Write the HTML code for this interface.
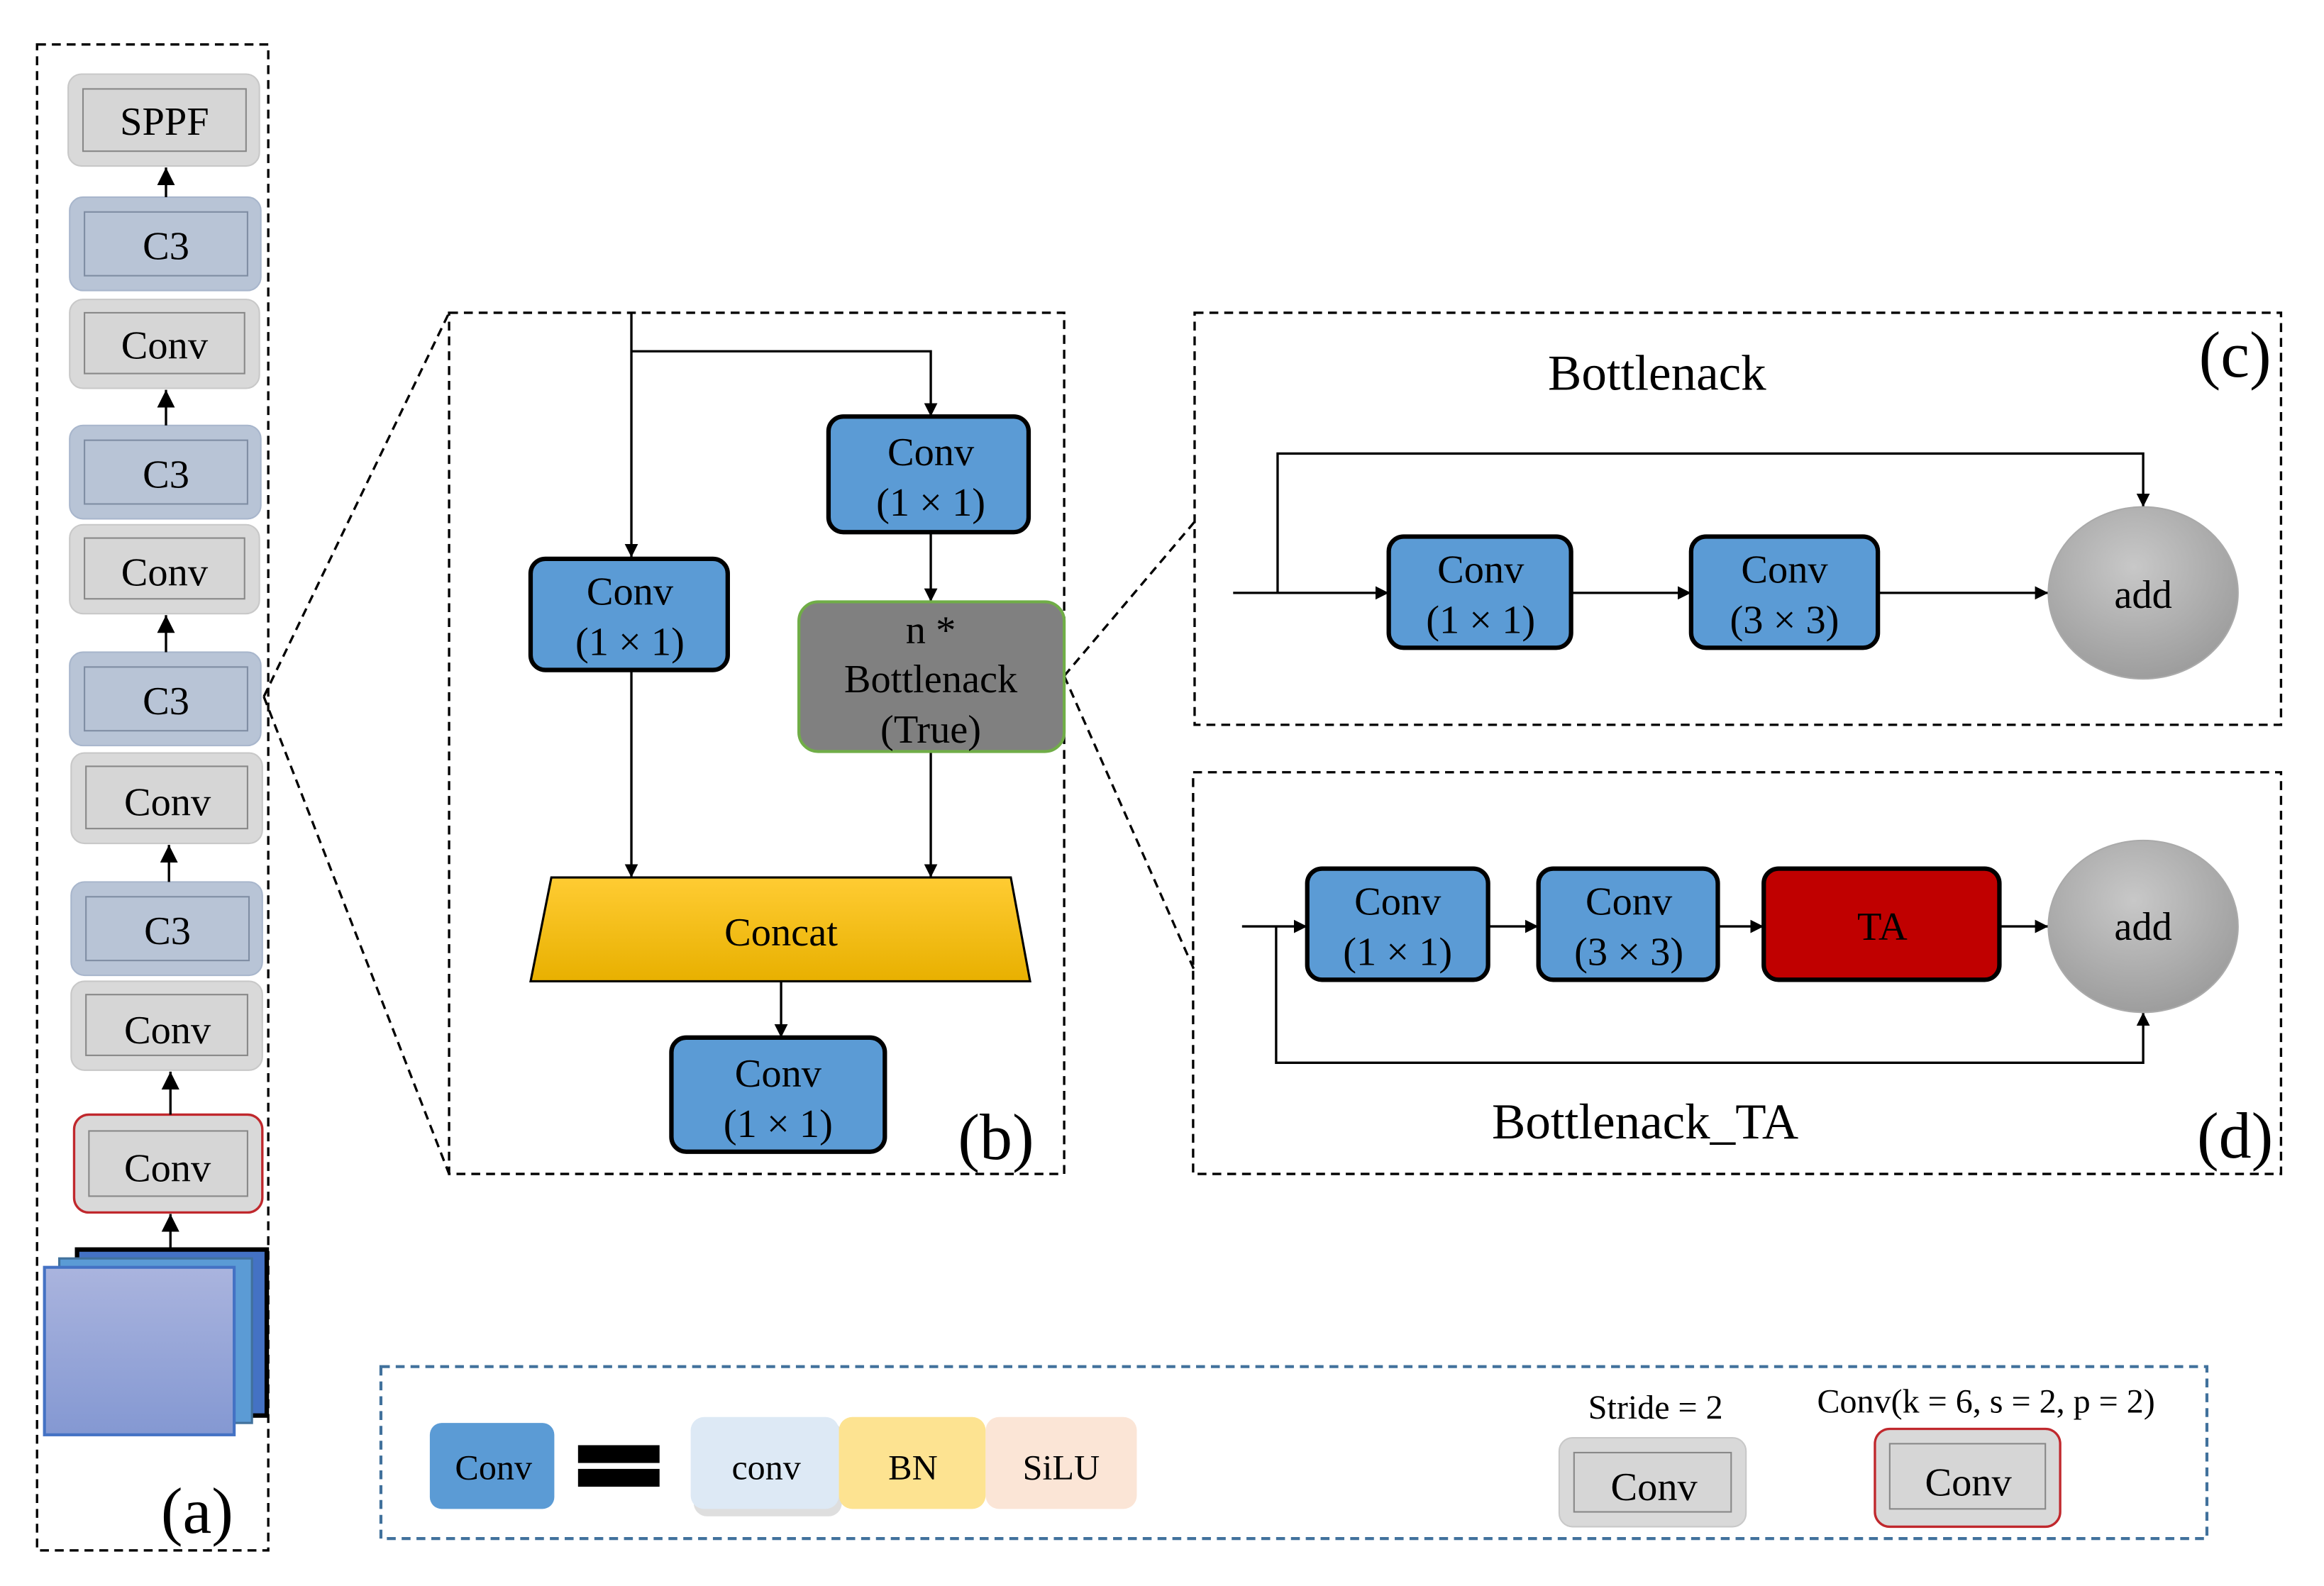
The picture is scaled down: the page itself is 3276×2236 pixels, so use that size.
<!DOCTYPE html>
<html><head><meta charset="utf-8"><style>html,body{margin:0;padding:0;background:#fff}svg{display:block}</style></head><body>
<svg width="3276" height="2236" viewBox="0 0 1568 1070" preserveAspectRatio="none" xmlns="http://www.w3.org/2000/svg" font-family="'Liberation Serif',serif">
<defs>
<marker id="ar" viewBox="0 0 10 10" refX="10" refY="5" markerWidth="9" markerHeight="9" markerUnits="userSpaceOnUse" orient="auto"><path d="M0,0L10,5L0,10z" fill="#000"/></marker>
<marker id="ar2" viewBox="0 0 10 10" refX="10" refY="5" markerWidth="12" markerHeight="12" markerUnits="userSpaceOnUse" orient="auto"><path d="M0,0L10,5L0,10z" fill="#000"/></marker>
<linearGradient id="lav" x1="0" y1="0" x2="0" y2="1"><stop offset="0" stop-color="#aab4de"/><stop offset="1" stop-color="#8498d2"/></linearGradient>
<linearGradient id="gold" x1="0" y1="0" x2="0" y2="1"><stop offset="0" stop-color="#ffcc33"/><stop offset="1" stop-color="#e8b000"/></linearGradient>
<radialGradient id="gry" cx="0.45" cy="0.35" r="0.7"><stop offset="0" stop-color="#c8c8c8"/><stop offset="1" stop-color="#9a9a9a"/></radialGradient>
</defs>
<g fill="none" stroke="#000" stroke-width="1.6" stroke-dasharray="6,4">
<rect x="25" y="30" width="156" height="1016"/>
<rect x="303" y="211" width="415" height="581"/>
<rect x="806" y="211" width="733" height="278"/>
<rect x="805" y="521" width="734" height="271"/>
<path d="M178,470L303,211M178,470L303,792M718,456L806,352M718,456L806,655"/>
</g>
<rect x="257" y="922" width="1232" height="116" fill="none" stroke="#41719c" stroke-width="2" stroke-dasharray="6,4"/>
<g font-size="27" text-anchor="middle">
<rect x="46" y="50" width="129" height="62" rx="9" fill="#d9d9d9" stroke="#c8c8c8"/><rect x="56" y="60" width="110" height="42" fill="#d6d6d6" stroke="#888"/><text x="111" y="91">SPPF</text>
<rect x="47" y="133" width="129" height="63" rx="9" fill="#b8c4d6" stroke="#a8b6cc"/><rect x="57" y="143" width="110" height="43" fill="#b8c4d6" stroke="#7f8da3"/><text x="112" y="175">C3</text>
<rect x="47" y="202" width="128" height="60" rx="9" fill="#d9d9d9" stroke="#c8c8c8"/><rect x="57" y="211" width="108" height="41" fill="#d6d6d6" stroke="#888"/><text x="111" y="242">Conv</text>
<rect x="47" y="287" width="129" height="63" rx="9" fill="#b8c4d6" stroke="#a8b6cc"/><rect x="57" y="297" width="110" height="43" fill="#b8c4d6" stroke="#7f8da3"/><text x="112" y="329">C3</text>
<rect x="47" y="354" width="128" height="60" rx="9" fill="#d9d9d9" stroke="#c8c8c8"/><rect x="57" y="363" width="108" height="41" fill="#d6d6d6" stroke="#888"/><text x="111" y="395">Conv</text>
<rect x="47" y="440" width="129" height="63" rx="9" fill="#b8c4d6" stroke="#a8b6cc"/><rect x="57" y="450" width="110" height="43" fill="#b8c4d6" stroke="#7f8da3"/><text x="112" y="482">C3</text>
<rect x="48" y="508" width="129" height="61" rx="9" fill="#d9d9d9" stroke="#c8c8c8"/><rect x="58" y="517" width="109" height="42" fill="#d6d6d6" stroke="#888"/><text x="113" y="550">Conv</text>
<rect x="48" y="595" width="129" height="63" rx="9" fill="#b8c4d6" stroke="#a8b6cc"/><rect x="58" y="605" width="110" height="43" fill="#b8c4d6" stroke="#7f8da3"/><text x="113" y="637">C3</text>
<rect x="48" y="662" width="129" height="60" rx="9" fill="#d9d9d9" stroke="#c8c8c8"/><rect x="58" y="671" width="109" height="41" fill="#d6d6d6" stroke="#888"/><text x="113" y="704">Conv</text>
<rect x="50" y="752" width="127" height="66" rx="10" fill="#d9d9d9" stroke="#c0282d" stroke-width="1.6"/><rect x="60" y="763" width="107" height="44" fill="#d6d6d6" stroke="#888"/><text x="113" y="797">Conv</text>
</g>
<g stroke="#000" stroke-width="1.6">
<path d="M112,133V113" marker-end="url(#ar2)"/>
<path d="M112,287V263" marker-end="url(#ar2)"/>
<path d="M112,440V415" marker-end="url(#ar2)"/>
<path d="M114,595V570" marker-end="url(#ar2)"/>
<path d="M115,752V723" marker-end="url(#ar2)"/>
<path d="M115,843V819" marker-end="url(#ar2)"/>
</g>
<rect x="52" y="843" width="128" height="112" fill="#4472c4" stroke="#000" stroke-width="3"/>
<rect x="40" y="849" width="130" height="111" fill="#5b9bd5" stroke="#41719c" stroke-width="1.5"/>
<rect x="30" y="855" width="128" height="113" fill="url(#lav)" stroke="#4472c4" stroke-width="2"/>
<text x="133" y="1034" font-size="44" text-anchor="middle">(a)</text>
<g stroke="#000" stroke-width="1.6" fill="none">
<path d="M426,211V376" marker-end="url(#ar)"/>
<path d="M426,237H628V281" marker-end="url(#ar)"/>
<path d="M628,359V406" marker-end="url(#ar)"/>
<path d="M426,452V592" marker-end="url(#ar)"/>
<path d="M628,507V592" marker-end="url(#ar)"/>
<path d="M527,662V700" marker-end="url(#ar)"/>
</g>
<g font-size="27" text-anchor="middle">
<rect x="559" y="281" width="135" height="78" rx="10" fill="#5b9bd5" stroke="#000" stroke-width="3"/><text x="628" y="314">Conv</text><text x="628" y="348">(1 × 1)</text>
<rect x="358" y="377" width="133" height="75" rx="10" fill="#5b9bd5" stroke="#000" stroke-width="3"/><text x="425" y="408">Conv</text><text x="425" y="442">(1 × 1)</text>
<rect x="539" y="406" width="179" height="101" rx="13" fill="#808080" stroke="#70ad47" stroke-width="2"/><text x="628" y="434">n *</text><text x="628" y="467">Bottlenack</text><text x="628" y="501">(True)</text>
<path d="M372,592H682L695,662H358Z" fill="url(#gold)" stroke="#000" stroke-width="1.5"/><text x="527" y="638">Concat</text>
<rect x="453" y="700" width="144" height="77" rx="10" fill="#5b9bd5" stroke="#000" stroke-width="3"/><text x="525" y="733">Conv</text><text x="525" y="767">(1 × 1)</text>
</g>
<text x="672" y="782" font-size="44" text-anchor="middle">(b)</text>
<g stroke="#000" stroke-width="1.6" fill="none">
<path d="M832,400H937" marker-end="url(#ar)"/>
<path d="M862,400V306H1446V342" marker-end="url(#ar)"/>
<path d="M1060,400H1141" marker-end="url(#ar)"/>
<path d="M1267,400H1382" marker-end="url(#ar)"/>
</g>
<g font-size="27" text-anchor="middle">
<text x="1118" y="263" font-size="34">Bottlenack</text>
<rect x="937" y="362" width="123" height="75" rx="10" fill="#5b9bd5" stroke="#000" stroke-width="3"/><text x="999" y="393">Conv</text><text x="999" y="427">(1 × 1)</text>
<rect x="1141" y="362" width="126" height="75" rx="10" fill="#5b9bd5" stroke="#000" stroke-width="3"/><text x="1204" y="393">Conv</text><text x="1204" y="427">(3 × 3)</text>
<ellipse cx="1446" cy="400" rx="64" ry="58" fill="url(#gry)" stroke="#aaa"/><text x="1446" y="410">add</text>
</g>
<text x="1508" y="254" font-size="44" text-anchor="middle">(c)</text>
<g stroke="#000" stroke-width="1.6" fill="none">
<path d="M838,625H882" marker-end="url(#ar)"/>
<path d="M861,625V717H1446V683" marker-end="url(#ar)"/>
<path d="M1004,625H1038" marker-end="url(#ar)"/>
<path d="M1159,625H1190" marker-end="url(#ar)"/>
<path d="M1349,625H1382" marker-end="url(#ar)"/>
</g>
<g font-size="27" text-anchor="middle">
<rect x="882" y="586" width="122" height="75" rx="10" fill="#5b9bd5" stroke="#000" stroke-width="3"/><text x="943" y="617">Conv</text><text x="943" y="651">(1 × 1)</text>
<rect x="1038" y="586" width="121" height="75" rx="10" fill="#5b9bd5" stroke="#000" stroke-width="3"/><text x="1099" y="617">Conv</text><text x="1099" y="651">(3 × 3)</text>
<rect x="1190" y="586" width="159" height="75" rx="10" fill="#c00000" stroke="#000" stroke-width="3"/><text x="1270" y="634">TA</text>
<ellipse cx="1446" cy="625" rx="64" ry="58" fill="url(#gry)" stroke="#aaa"/><text x="1446" y="634">add</text>
<text x="1110" y="768" font-size="34">Bottlenack_TA</text>
</g>
<text x="1508" y="781" font-size="44" text-anchor="middle">(d)</text>
<g font-size="24" text-anchor="middle">
<rect x="290" y="960" width="84" height="58" rx="8" fill="#5b9bd5"/><text x="333" y="998">Conv</text>
<rect x="390" y="975" width="55" height="12" fill="#000"/><rect x="390" y="991" width="55" height="12" fill="#000"/>
<rect x="468" y="959" width="100" height="64" rx="9" fill="#c8c8c8" opacity="0.6"/>
<rect x="466" y="956" width="100" height="62" rx="9" fill="#dde9f5"/><text x="517" y="998">conv</text>
<rect x="566" y="956" width="99" height="62" rx="9" fill="#fde391"/><text x="616" y="998">BN</text>
<rect x="665" y="956" width="102" height="62" rx="9" fill="#fbe5d6"/><text x="716" y="998">SiLU</text>
<text x="1117" y="957" font-size="23">Stride = 2</text>
<rect x="1052" y="970" width="126" height="60" rx="9" fill="#d9d9d9" stroke="#c8c8c8"/><rect x="1062" y="980" width="106" height="40" fill="#d6d6d6" stroke="#888"/><text x="1116" y="1012" font-size="27">Conv</text>
<text x="1340" y="953" font-size="23">Conv(k  = 6, s = 2, p = 2)</text>
<rect x="1265" y="964" width="125" height="66" rx="10" fill="#d9d9d9" stroke="#c0282d" stroke-width="1.6"/><rect x="1275" y="974" width="105" height="44" fill="#d6d6d6" stroke="#888"/><text x="1328" y="1009" font-size="27">Conv</text>
</g>
</svg>
</body></html>
